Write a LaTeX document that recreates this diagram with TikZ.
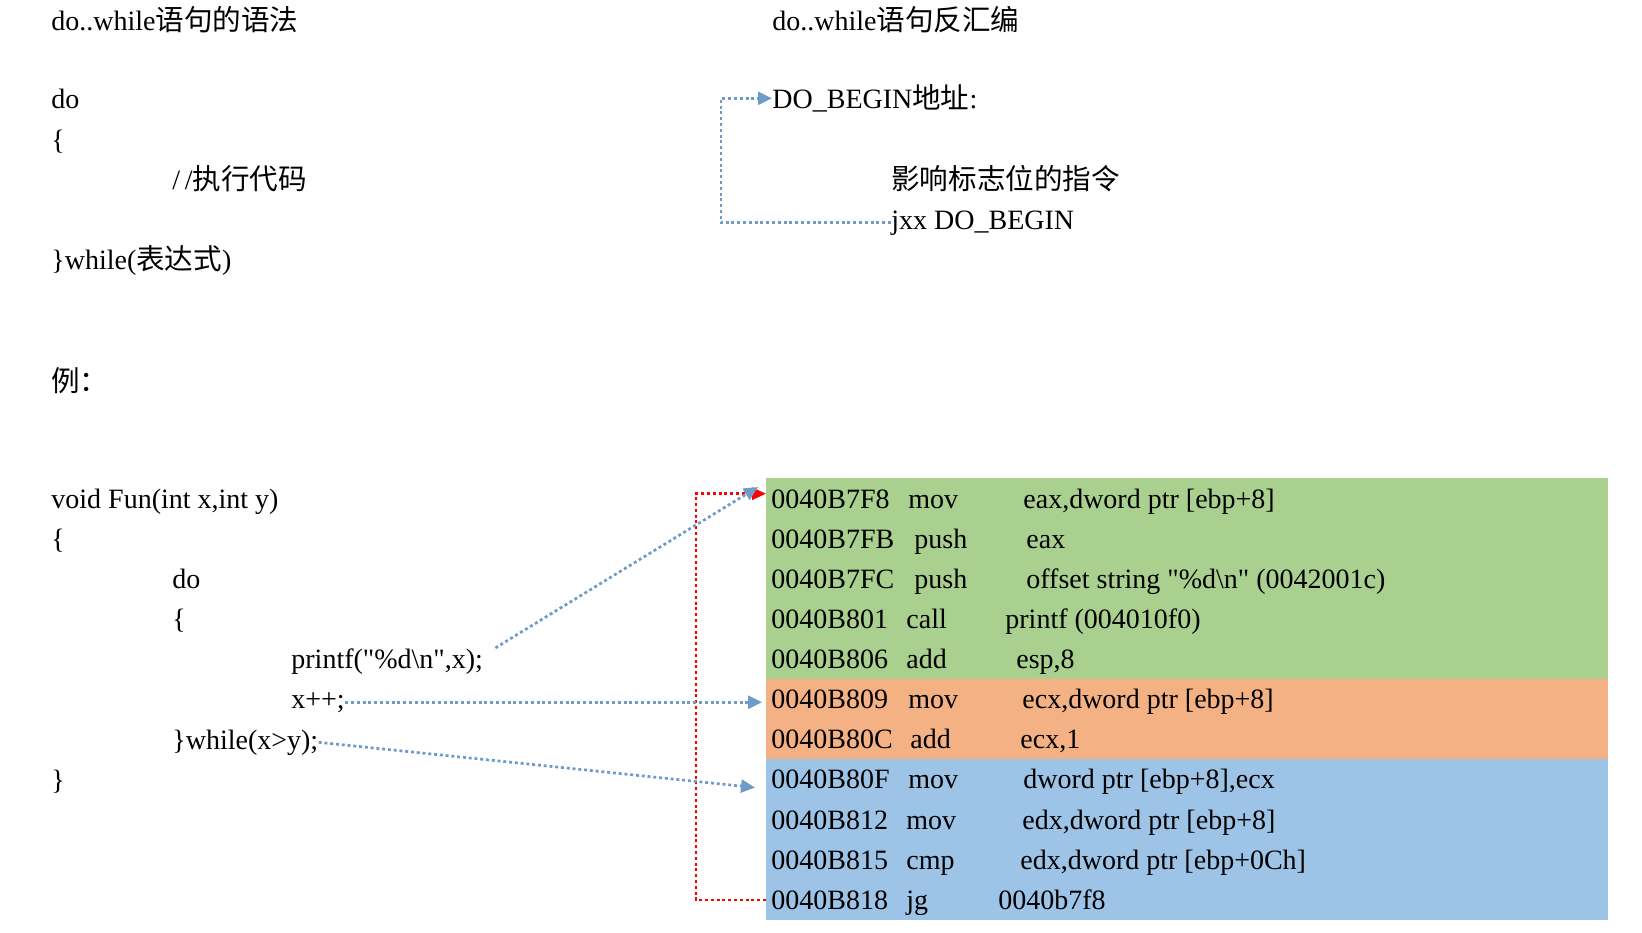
\documentclass[tikz,border=0pt]{standalone}
\usepackage{fontspec}
\setmainfont{Liberation Serif}
\newfontfamily\cjk[Scale=1.02]{Noto Sans CJK SC}
\usetikzlibrary{arrows.meta,calc}

\definecolor{rowgreen}{HTML}{A9D08E}
\definecolor{roworange}{HTML}{F4B183}
\definecolor{rowblue}{HTML}{9DC3E6}
\definecolor{linkblue}{HTML}{6F9BC8}

% straight double quote, not touched by the TeX mapping
\newcommand\straightquote{\XeTeXglyph\XeTeXcharglyph"22 }

\tikzset{
	txt/.style   = {anchor=base west, inner sep=0pt, font=\fontsize{14}{16}\selectfont},
	asmrow/.style = {anchor=north west, inner sep=0pt, minimum width=421pt, minimum height=20.3pt},
	link/.style  = {linkblue, line width=1.35pt, dash pattern=on 1.5pt off 1.4pt, -{Triangle[length=7pt,width=6.5pt]}},
	back/.style  = {red, line width=1.35pt, dash pattern=on 1.5pt off 1.4pt, -{Triangle[length=7pt,width=6pt]}}
}

\begin{document}
\begin{tikzpicture}[x=0.5pt, y=-0.5pt]
	\useasboundingbox (0,0) rectangle (1642,932);

	% syntax
	\node[txt] (syn) at (51,30) {do..while{\cjk 语句的语法}};
	\node[txt] (do1) at (51,108.5) {do};
	\node[txt] (lb0) at (51,149) {\{};
	\node[txt] (cmt) at (172,189) {/\,/{\cjk 执行代码}};
	\node[txt] (wh0) at (51,269.5) {\}while({\cjk 表达式})};

	% disassembly pattern
	\node[txt] (dis) at (772,30) {do..while{\cjk 语句反汇编}};
	\node[txt] (dob) at (772,108.5) {DO\_BEGIN{\cjk 地址}:};
	\node[txt] (flg) at (891,189) {\cjk 影响标志位的指令};
	\node[txt] (jxx) at (891,229) {jxx DO\_BEGIN};

	% example
	\node[txt] (exm) at (51,391) {\cjk 例：};
	\node[txt] (fun) at (51,508) {void Fun(int x,int y)};
	\node[txt] (lb1) at (51,548) {\{};
	\node[txt] (do2) at (172,588) {do};
	\node[txt] (lb2) at (172,628) {\{};
	\node[txt] (prf) at (291,668) {printf(\straightquote\%d\textbackslash n\straightquote,x);};
	\node[txt] (xpp) at (291,708) {x++;};
	\node[txt] (whl) at (172,749) {\}while(x>y);};
	\node[txt] (rb1) at (51,789) {\}};

	\foreach \i/\clr in {1/rowgreen, 2/rowgreen, 3/rowgreen, 4/rowgreen, 5/rowgreen, 6/roworange, 7/roworange, 8/rowblue, 9/rowblue, 10/rowblue, 11/rowblue}
		\node[asmrow, fill=\clr] (r\i) at (766,{478+40.12*(\i-1)}) {};

	\foreach \i/\ad/\mx/\mn/\ox/\op in {
		1/0040B7F8/908/mov/1023/{eax,dword ptr [ebp+8]},
		2/0040B7FB/914/push/1026/eax,
		3/0040B7FC/914/push/1026/{offset string \straightquote\%d\textbackslash n\straightquote\ (0042001c)},
		4/0040B801/906/call/1005/printf (004010f0),
		5/0040B806/906/add/1016/{esp,8},
		6/0040B809/908/mov/1022/{ecx,dword ptr [ebp+8]},
		7/0040B80C/910/add/1020/{ecx,1},
		8/0040B80F/908/mov/1023/{dword ptr [ebp+8],ecx},
		9/0040B812/906/mov/1022/{edx,dword ptr [ebp+8]},
		10/0040B815/906/cmp/1020/{edx,dword ptr [ebp+0Ch]},
		11/0040B818/906/jg/998/0040b7f8}
	{
		\node[txt] (a\i) at (771,{478+40.12*\i-10}) {\ad};
		\node[txt] (m\i) at (\mx,{478+40.12*\i-10}) {\mn};
		\node[txt] (o\i) at (\ox,{478+40.12*\i-10}) {\op};
	}

	\draw[link] (jxx.west) -- ++(-170,0) |- (dob.west);
	\draw[back] (r11.west) -- ++(-70,0) |- ([yshift=2.5pt]r1.west);
	\draw[link] ([xshift=6pt]prf.north east) -- ($(r1.north west)+(-8,9)$);
	\draw[link] (xpp.east) -- ($(xpp.east -| r6.west)+(-4,0)$);
	\draw[link] (whl.east) -- ($(r8.west)+(-11,8)$);
\end{tikzpicture}
\end{document}
